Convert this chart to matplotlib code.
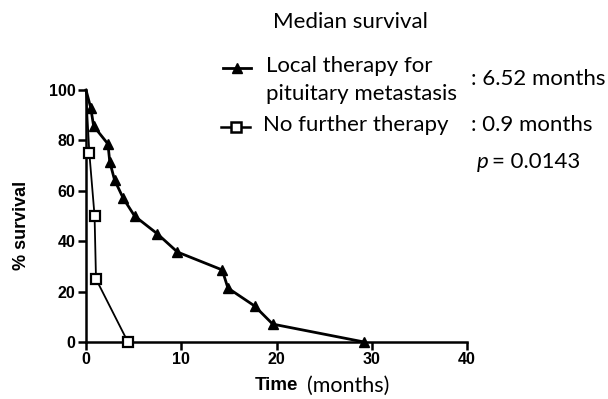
import numpy as np
import matplotlib.pyplot as plt

# Kaplan-Meier points
local_time = [0, 0.5, 0.8, 2.3, 2.5, 3.0, 3.9, 5.1, 7.5, 9.6, 14.3, 14.9, 17.7, 19.6, 29.2]
local_surv = [100, 92.9, 85.7, 78.6, 71.4, 64.3, 57.1, 50.0, 42.9, 35.7, 28.6, 21.4, 14.3, 7.1, 0]

none_time = [0, 0.35, 0.9, 1.05, 4.4]
none_surv = [100, 75, 50, 25, 0]

x_ticks = [0, 10, 20, 30, 40]
y_ticks = [0, 20, 40, 60, 80, 100]

legend_font = ["Lato", "DejaVu Sans"]
tick_font = ["Liberation Sans", "DejaVu Sans"]


def fy(p):
    return 1 - p / 399


def fx(p):
    return p / 608


def main():
    fig = plt.figure(figsize=(6.08, 3.99), dpi=100)
    ax = fig.add_axes([fx(86), fy(342), fx(467 - 86), (342 - 90) / 399])

    n1 = len(local_time)
    ax.plot(local_time, local_surv, color="black", lw=2.0, marker="^", ms=7.5,
            mfc="black", mec="black", markevery=list(range(1, n1)),
            clip_on=False, zorder=3)
    n2 = len(none_time)
    ax.plot(none_time, none_surv, color="black", lw=1.3, marker="s", ms=7,
            mfc="white", mec="black", mew=1.6, markevery=list(range(1, n2)),
            clip_on=False, zorder=4)

    ax.set_xlim(0, 40)
    ax.set_ylim(0, 100)
    ax.set_xticks(x_ticks)
    ax.set_yticks(y_ticks)
    for s in ["top", "right"]:
        ax.spines[s].set_visible(False)
    for s in ["left", "bottom"]:
        ax.spines[s].set_linewidth(1.8)
    ax.tick_params(direction="out", length=6, width=1.8, pad=1.5)
    for lab in ax.get_xticklabels() + ax.get_yticklabels():
        lab.set_family(tick_font)
        lab.set_fontweight("bold")
        lab.set_fontsize(11.5)

    fig.text(fx(22), fy(225), "% survival", family=tick_font, fontweight="bold",
             fontsize=13, rotation=90, ha="center", va="center")
    fig.text(fx(298), fy(386), "Time", family=tick_font, fontweight="bold",
             fontsize=13.5, ha="right", va="center")
    fig.text(fx(307), fy(386), "(months)", family=legend_font,
             fontsize=15.5, ha="left", va="center")

    # legend / annotation block
    fig.text(fx(350), fy(22), "Median survival", family=legend_font, fontsize=16,
             ha="center", va="center")
    fig.text(fx(266), fy(66), "Local therapy for", family=legend_font, fontsize=16,
             ha="left", va="center")
    fig.text(fx(266), fy(94), "pituitary metastasis", family=legend_font, fontsize=16,
             ha="left", va="center")
    fig.text(fx(471), fy(79), ": 6.52 months", family=legend_font, fontsize=16,
             ha="left", va="center")
    fig.text(fx(263), fy(125), "No further therapy", family=legend_font, fontsize=16,
             ha="left", va="center")
    fig.text(fx(471), fy(125), ": 0.9 months", family=legend_font, fontsize=16,
             ha="left", va="center")
    fig.text(fx(477), fy(162), "p", family=legend_font, style="italic", fontsize=16,
             ha="left", va="center")
    fig.text(fx(492), fy(162), "= 0.0143", family=legend_font, fontsize=16,
             ha="left", va="center")

    # legend markers
    fig.lines.append(plt.Line2D([fx(223), fx(251)], [fy(68), fy(68)], color="black",
                                lw=2.0, transform=fig.transFigure))
    fig.lines.append(plt.Line2D([fx(237)], [fy(68)], color="black", marker="^", ms=7,
                                ls="none", transform=fig.transFigure))
    fig.lines.append(plt.Line2D([fx(221), fx(250)], [fy(127), fy(127)], color="black",
                                lw=1.8, transform=fig.transFigure))
    fig.lines.append(plt.Line2D([fx(236)], [fy(127)], color="black", marker="s", ms=7,
                                mfc="white", mew=1.8, ls="none", transform=fig.transFigure))

    fig.savefig("out.png", dpi=100)


if __name__ == "__main__":
    main()
